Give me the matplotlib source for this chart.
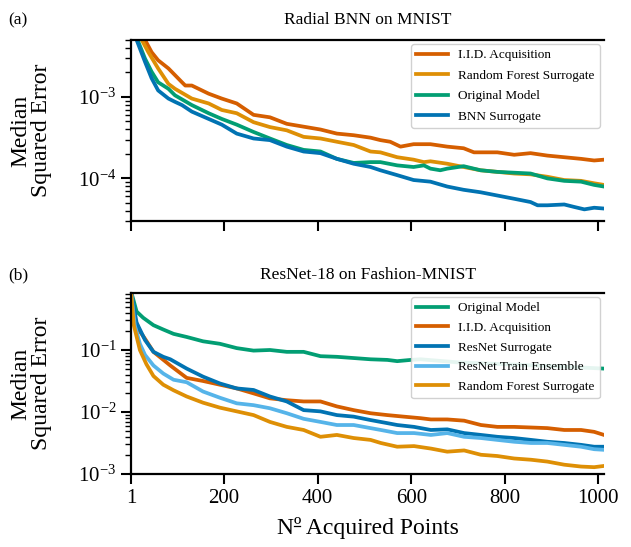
import numpy as np
import matplotlib
matplotlib.use("Agg")
import matplotlib.pyplot as plt
from matplotlib.lines import Line2D
from matplotlib.ticker import LogLocator, NullFormatter

plt.rcParams['font.family'] = ['Liberation Serif', 'DejaVu Serif']
plt.rcParams['mathtext.fontset'] = 'stix'

# colorblind palette
c_blue = '#0173b2'
c_orange = '#de8f05'
c_green = '#029e73'
c_red = '#d55e00'
c_lblue = '#56b4e9'

# ---- (a) Radial BNN on MNIST : x = acquired points, values as log10(median squared error)
iid_a_x = [1, 31, 45, 59, 81, 110, 117, 131, 167, 195, 227, 263, 298, 334, 406, 441, 477, 513,
           534, 555, 577, 605, 641, 677, 712, 734, 784, 820, 855, 891, 927, 963, 991, 1012]
iid_a_log = [-1.9, -2.30, -2.45, -2.55, -2.65, -2.82, -2.86, -2.86, -2.96, -3.02, -3.08, -3.22, -3.25, -3.33,
             -3.40, -3.45, -3.47, -3.50, -3.53, -3.55, -3.61, -3.58, -3.58, -3.61, -3.63, -3.68, -3.68,
             -3.71, -3.69, -3.72, -3.74, -3.76, -3.78, -3.77]

rf_a_x = [1, 24, 38, 59, 81, 95, 131, 167, 195, 227, 263, 298, 334, 370, 406, 441, 477, 513,
          534, 570, 605, 627, 641, 677, 712, 748, 784, 820, 855, 891, 927, 963, 991, 1012]
rf_a_log = [-1.9, -2.30, -2.45, -2.65, -2.84, -2.90, -3.02, -3.08, -3.16, -3.20, -3.31, -3.37, -3.41,
            -3.49, -3.51, -3.55, -3.59, -3.67, -3.68, -3.74, -3.77, -3.80, -3.79, -3.82, -3.86, -3.90,
            -3.92, -3.94, -3.95, -3.98, -4.02, -4.03, -4.06, -4.08]

orig_a_x = [1, 15, 31, 45, 59, 81, 95, 131, 167, 195, 227, 263, 298, 334, 370, 406, 441, 477, 513,
            534, 570, 605, 627, 641, 662, 677, 712, 748, 784, 820, 855, 891, 927, 963, 991, 1012]
orig_a_log = [-1.9, -2.30, -2.53, -2.69, -2.82, -2.90, -2.98, -3.10, -3.20, -3.27, -3.34, -3.43, -3.51,
              -3.59, -3.65, -3.67, -3.76, -3.81, -3.80, -3.80, -3.84, -3.86, -3.84, -3.88, -3.90, -3.88,
              -3.85, -3.90, -3.92, -3.93, -3.94, -4.00, -4.03, -4.04, -4.08, -4.10]

bnn_a_x = [1, 13, 31, 45, 59, 81, 95, 110, 131, 167, 195, 227, 263, 298, 334, 370, 406, 441, 477, 513,
           534, 570, 605, 641, 677, 712, 748, 784, 820, 855, 870, 891, 927, 948, 970, 991, 1012]
bnn_a_log = [-2.0, -2.30, -2.57, -2.77, -2.92, -3.02, -3.06, -3.10, -3.18, -3.27, -3.34, -3.45, -3.51,
             -3.53, -3.61, -3.67, -3.69, -3.76, -3.82, -3.86, -3.90, -3.96, -4.02, -4.04, -4.10, -4.14,
             -4.17, -4.21, -4.25, -4.29, -4.33, -4.33, -4.32, -4.35, -4.38, -4.36, -4.37]

# ---- (b) ResNet-18 on Fashion-MNIST
orig_b_x = [1, 13, 27, 49, 70, 92, 120, 155, 191, 227, 263, 298, 334, 370, 406, 441, 477, 513, 549,
            570, 599, 620, 700, 800, 900, 1012]
orig_b_log = [-0.05, -0.38, -0.48, -0.60, -0.67, -0.74, -0.79, -0.86, -0.90, -0.97, -1.01, -1.00, -1.03,
              -1.03, -1.10, -1.11, -1.13, -1.15, -1.16, -1.18, -1.16, -1.15, -1.20, -1.23, -1.26, -1.30]

iid_b_x = [1, 9, 20, 31, 49, 85, 120, 155, 191, 227, 263, 298, 334, 370, 406, 441, 477, 513, 549,
           584, 620, 642, 677, 713, 749, 784, 820, 856, 891, 927, 963, 991, 1012]
iid_b_log = [-0.05, -0.50, -0.70, -0.82, -1.03, -1.25, -1.45, -1.50, -1.56, -1.62, -1.70, -1.78, -1.81,
             -1.83, -1.83, -1.91, -1.97, -2.02, -2.05, -2.075, -2.10, -2.12, -2.12, -2.14, -2.21, -2.24,
             -2.24, -2.25, -2.26, -2.29, -2.29, -2.32, -2.37]

resnet_b_x = [1, 13, 31, 49, 70, 85, 120, 155, 191, 227, 263, 298, 334, 370, 406, 441, 477, 513, 549,
              570, 606, 642, 677, 713, 749, 784, 820, 856, 891, 927, 963, 991, 1012]
resnet_b_log = [-0.05, -0.56, -0.84, -1.03, -1.11, -1.15, -1.30, -1.43, -1.54, -1.62, -1.645, -1.75,
                -1.83, -1.97, -1.99, -2.05, -2.075, -2.13, -2.18, -2.21, -2.24, -2.29, -2.28, -2.34,
                -2.37, -2.40, -2.42, -2.45, -2.48, -2.50, -2.53, -2.56, -2.56]

ens_b_x = [1, 9, 20, 31, 49, 70, 92, 120, 155, 191, 227, 263, 298, 334, 370, 406, 441, 477, 513, 535,
           570, 606, 642, 677, 713, 749, 784, 820, 856, 891, 927, 963, 991, 1012]
ens_b_log = [-0.05, -0.60, -0.90, -1.08, -1.25, -1.38, -1.48, -1.52, -1.67, -1.77, -1.86, -1.89, -1.94,
             -2.02, -2.11, -2.16, -2.21, -2.21, -2.26, -2.29, -2.34, -2.34, -2.37, -2.34, -2.40, -2.42,
             -2.45, -2.48, -2.50, -2.50, -2.53, -2.56, -2.60, -2.61]

rf_b_x = [1, 7, 20, 34, 49, 70, 92, 120, 155, 191, 227, 263, 298, 334, 370, 406, 441, 477, 513, 535,
          570, 606, 642, 677, 713, 749, 784, 820, 856, 891, 927, 963, 991, 1012]
rf_b_log = [-0.05, -0.60, -1.00, -1.23, -1.42, -1.56, -1.65, -1.75, -1.85, -1.93, -1.99, -2.05, -2.16,
            -2.24, -2.29, -2.40, -2.37, -2.42, -2.45, -2.50, -2.56, -2.55, -2.59, -2.64, -2.62, -2.69,
            -2.71, -2.75, -2.77, -2.80, -2.85, -2.88, -2.89, -2.87]

xticks = [1, 200, 400, 600, 800, 1000]
lw = 2.7

fig = plt.figure(figsize=(6.31, 5.47), dpi=100)
ax1 = fig.add_axes([131/631, 1-221/547, 473/631, 181/547])
ax2 = fig.add_axes([131/631, 1-474/547, 473/631, 181/547])

ax1.plot(iid_a_x, 10**np.array(iid_a_log), color=c_red, lw=lw, label='I.I.D. Acquisition')
ax1.plot(rf_a_x, 10**np.array(rf_a_log), color=c_orange, lw=lw, label='Random Forest Surrogate')
ax1.plot(orig_a_x, 10**np.array(orig_a_log), color=c_green, lw=lw, label='Original Model')
ax1.plot(bnn_a_x, 10**np.array(bnn_a_log), color=c_blue, lw=lw, label='BNN Surrogate')
ax1.set_ylim(3e-5, 5e-3)

ax2.plot(orig_b_x, 10**np.array(orig_b_log), color=c_green, lw=lw, label='Original Model')
ax2.plot(iid_b_x, 10**np.array(iid_b_log), color=c_red, lw=lw, label='I.I.D. Acquisition')
ax2.plot(resnet_b_x, 10**np.array(resnet_b_log), color=c_blue, lw=lw, label='ResNet Surrogate')
ax2.plot(ens_b_x, 10**np.array(ens_b_log), color=c_lblue, lw=lw, label='ResNet Train Ensemble')
ax2.plot(rf_b_x, 10**np.array(rf_b_log), color=c_orange, lw=lw, label='Random Forest Surrogate')
ax2.set_ylim(1e-3, 0.83)

for ax, spacing in ((ax1, 0.62), (ax2, 0.56)):
    ax.set_yscale('log')
    ax.set_xlim(1, 1012)
    ax.set_xticks(xticks)
    ax.yaxis.set_major_locator(LogLocator(base=10, numticks=10))
    ax.yaxis.set_minor_locator(LogLocator(base=10, subs=np.arange(2, 10), numticks=20))
    ax.yaxis.set_minor_formatter(NullFormatter())
    ax.spines['right'].set_visible(False)
    for s in ('left', 'bottom', 'top'):
        ax.spines[s].set_linewidth(1.6)
    ax.tick_params(which='major', direction='out', length=7, width=1.5, labelsize=15, top=False, right=False)
    ax.tick_params(which='minor', direction='out', length=4, width=1.0, right=False)
    ax.set_ylabel('Median\nSquared Error', fontsize=17, linespacing=0.95)
    ax.yaxis.set_label_coords(-0.168, 0.5)
    ax.legend(loc='upper right', fontsize=9.5, handlelength=2.4, labelspacing=spacing,
              borderaxespad=0.3, framealpha=0.9, edgecolor='0.8')

ax1.tick_params(axis='x', labelbottom=False)
ax2.set_xlabel('N\u00ba Acquired Points', fontsize=17, labelpad=7)

fig.text(367.5/631, 1-20/547, 'Radial BNN on MNIST', ha='center', va='center', fontsize=12.5)
fig.text(8/631, 1-20/547, '(a)', ha='left', va='center', fontsize=12.5)
fig.text(367.5/631, 1-275/547, 'ResNet-18 on Fashion-MNIST', ha='center', va='center', fontsize=12.5)
fig.text(8/631, 1-275/547, '(b)', ha='left', va='center', fontsize=12.5)

# underline under the ordinal "o" of the x label
fig.canvas.draw()
r = fig.canvas.get_renderer()
bb = ax2.xaxis.label.get_window_extent(r)
tn = fig.text(0, 0, 'N', fontsize=17)
tno = fig.text(0, 0, 'N\u00ba', fontsize=17)
w_n = tn.get_window_extent(r).width
w_no = tno.get_window_extent(r).width
tn.remove()
tno.remove()
em = 17 * fig.dpi / 72
y_ul = bb.y0 + 0.216 * em + 0.5 * 0.66 * em
W, H = fig.bbox.width, fig.bbox.height
fig.add_artist(Line2D([(bb.x0 + w_n + 0.5) / W, (bb.x0 + w_no - 0.5) / W], [y_ul / H, y_ul / H],
                      transform=fig.transFigure, color='black', lw=0.9))

fig.savefig('out.png', dpi=100)
